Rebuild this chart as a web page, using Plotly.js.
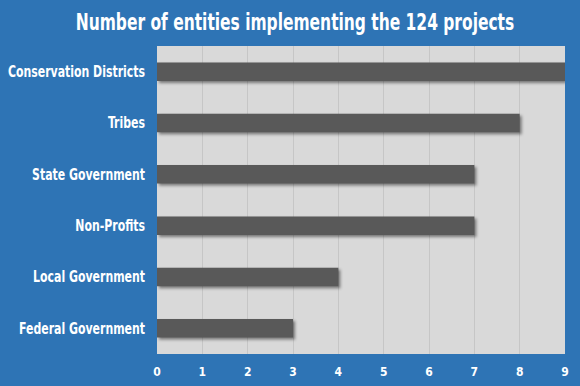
<!DOCTYPE html>
<html><head><meta charset="utf-8">
<script src="https://cdn.plot.ly/plotly-3.0.1.min.js"></script>
<style>
html,body{margin:0;padding:0;background:#2E74B5;}
#chart{width:580px;height:386px;}
#chart svg text{font-stretch:condensed !important;}
#chart g.g-gtitle{transform-origin:295px 0px; transform:scaleX(0.765);}
#chart g.yaxislayer-above{transform-origin:145px 0px; transform:scaleX(0.78);}
.bars .point path{filter:drop-shadow(2px 2px 1.5px rgba(0,0,0,0.45));}
</style>
</head><body>
<div id="chart"></div>
<script>
const categories = ["Federal Government","Local Government","Non-Profits","State Government","Tribes","Conservation Districts"];
const values = [3,4,7,7,8,9];
const xTicks = [0,1,2,3,4,5,6,7,8,9];

const font = "'DejaVu Sans', sans-serif";
Plotly.newPlot('chart', [{
  type:'bar', orientation:'h', x:values, y:categories,
  width:0.36, marker:{color:'#595959'}, hoverinfo:'none'
}], {
  width:580, height:386,
  paper_bgcolor:'#2E74B5', plot_bgcolor:'#D9D9D9',
  margin:{l:157,r:15,t:46,b:32},
  title:{text:'Number of entities implementing the 124 projects', x:295/580, xanchor:'center', y:1-21.7/386, yanchor:'middle',
    font:{family:font, size:22.5, color:'#FFFFFF', weight:'bold'}},
  xaxis:{range:[0,9], tickvals:xTicks, showgrid:true, gridcolor:'#C6C6C6', gridwidth:1, zeroline:false,
    tickfont:{family:font, size:12, color:'#FFFFFF', weight:'bold'}, ticklabelstandoff:9, fixedrange:true},
  yaxis:{tickfont:{family:font, size:15.6, color:'#FFFFFF', weight:'bold'}, ticklabelstandoff:11, showgrid:false, fixedrange:true},
  bargap:0.64, showlegend:false
}, {staticPlot:true});
</script>
</body></html>
